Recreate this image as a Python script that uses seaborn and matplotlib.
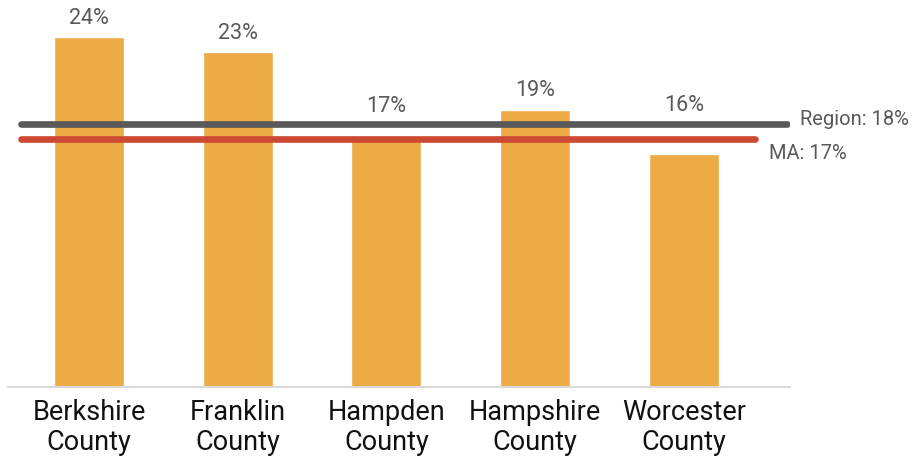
import matplotlib
matplotlib.use("Agg")
import matplotlib.pyplot as plt
import seaborn as sns
import pandas as pd

# Share of residents by county, with regional and statewide benchmarks
counties = ["Berkshire\nCounty", "Franklin\nCounty", "Hampden\nCounty",
            "Hampshire\nCounty", "Worcester\nCounty"]
shares = [24, 23, 17, 19, 16]
region_share = 18
ma_share = 17

sns.set_theme(style="white")
plt.rcParams["font.family"] = ["Roboto", "DejaVu Sans"]

df = pd.DataFrame({"county": counties, "share": shares})

fig = plt.figure(figsize=(9.19, 4.6), dpi=100)
ax = fig.add_axes([8 / 919, 72 / 460, 782 / 919, 388 / 460])

sns.barplot(data=df, x="county", y="share", color="#EDAB45", saturation=1,
            width=0.47, ax=ax, zorder=2)

ax.set_xlim(-0.545, 4.714)
ax.set_ylim(0, 26.6)

# benchmark lines drawn over the bars
ax.plot([-0.457, 4.694], [region_share, region_share], color="#595959",
        lw=4.8, solid_capstyle="round", zorder=4)
ax.plot([-0.457, 4.479], [ma_share, ma_share], color="#CC4A32",
        lw=4.8, solid_capstyle="round", zorder=4)

ax.text(4.78, region_share + 0.4, f"Region: {region_share}%", color="#595959",
        fontsize=14.5, va="center", ha="left", clip_on=False)
ax.text(4.57, ma_share - 0.9, f"MA: {ma_share}%", color="#595959",
        fontsize=14.5, va="center", ha="left", clip_on=False)

# value labels; some are lifted clear of the benchmark lines
label_lift = [19, 19, 34, 20, 49]
for i, (v, lift) in enumerate(zip(shares, label_lift)):
    ax.annotate(f"{v}%", (i, v), xytext=(0, lift * 0.72), textcoords="offset points",
                ha="center", va="center", fontsize=15.5, color="#595959")

ax.set_xlabel("")
ax.set_ylabel("")
ax.set_yticks([])
ax.tick_params(axis="x", length=0, pad=8, labelsize=19.5, labelcolor="#111111")
for lbl in ax.get_xticklabels():
    lbl.set_linespacing(1.12)

for side in ["top", "left", "right"]:
    ax.spines[side].set_visible(False)
ax.spines["bottom"].set_color("#D9D9D9")
ax.spines["bottom"].set_linewidth(1.5)

fig.savefig("out.png", dpi=100)
